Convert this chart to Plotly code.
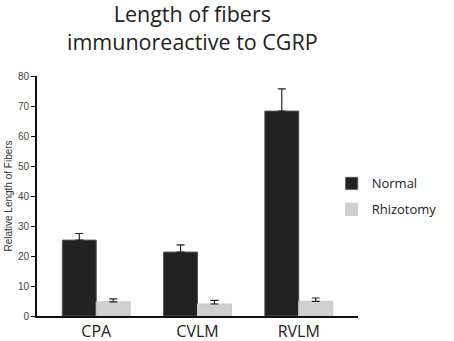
import plotly.graph_objects as go

categories = ["CPA", "CVLM", "RVLM"]
normal = [25.3, 21.3, 68.3]
normal_err = [2.2, 2.4, 7.4]
rhizotomy = [4.7, 4.0, 4.9]
rhizotomy_err = [1.0, 1.2, 1.1]
y_ticks = [0, 10, 20, 30, 40, 50, 60, 70, 80]

fig = go.Figure()
fig.add_trace(go.Bar(
    x=categories, y=normal, name="Normal",
    marker=dict(color="#222222", line=dict(color="#555555", width=1)),
    error_y=dict(type="data", symmetric=False, array=normal_err, arrayminus=[0]*3,
                 color="#222222", thickness=1.2, width=4),
    legendgroup="a",
))
fig.add_trace(go.Bar(
    x=categories, y=rhizotomy, name="Rhizotomy",
    marker=dict(color="#d0d0d0", line=dict(color="#c8c8c8", width=1)),
    error_y=dict(type="data", symmetric=False, array=rhizotomy_err, arrayminus=[0]*3,
                 color="#222222", thickness=1.2, width=4),
    legendgroup="b",
))

fig.add_annotation(
    text="Length of fibers<br>immunoreactive to CGRP",
    xref="paper", yref="paper", x=(197 - 37) / 330, y=(316 + 2) / 240,
    xanchor="center", yanchor="top", showarrow=False, borderpad=0,
    font=dict(family="Open Sans", size=21.5, color="#222222"),
)

fig.update_layout(
    width=454, height=341,
    margin=dict(l=37, r=87, t=76, b=25),
    paper_bgcolor="white", plot_bgcolor="white",
    barmode="group", bargap=0.33, bargroupgap=0,
    font=dict(family="Liberation Sans, Arial", color="#333333"),
    xaxis=dict(range=[-0.585, 2.585], showline=True, linecolor="#111111", linewidth=2,
               ticks="", tickfont=dict(family="Open Sans", size=16, color="#222222"),
               showgrid=False, zeroline=False, automargin=False),
    yaxis=dict(range=[0, 80], tickvals=y_ticks, showline=True, linecolor="#111111", linewidth=2,
               ticks="outside", ticklen=4, tickcolor="#111111", tickwidth=1,
               tickfont=dict(family="Liberation Sans, Arial", size=10, color="#444444"),
               title=dict(text="Relative Length of Fibers", standoff=3,
                          font=dict(family="Liberation Sans, Arial", size=10, color="#333333")),
               showgrid=False, zeroline=False, automargin=False),
    legend=dict(x=0.918, y=0.615, xanchor="left", yanchor="top",
                font=dict(family="Open Sans", size=13, color="#222222"),
                traceorder="grouped", tracegroupgap=6, bgcolor="rgba(0,0,0,0)"),
    showlegend=True,
)

fig.write_html("out.html", config={"displayModeBar": False},
               post_script="document.body.style.margin='0';")
